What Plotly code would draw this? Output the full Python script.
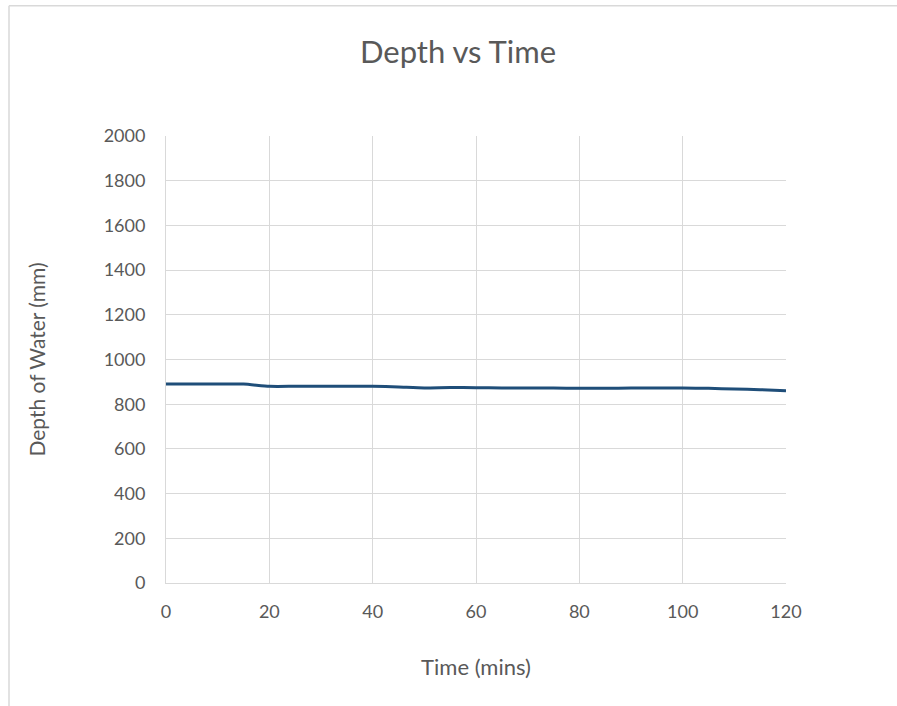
import plotly.graph_objects as go

# Water depth readings over a two-hour test
time_mins = [0, 5, 10, 15, 20, 25, 30, 35, 40, 45, 50, 55, 60,
             65, 70, 75, 80, 85, 90, 95, 100, 105, 110, 115, 120]
depth_mm = [890, 890, 890, 890, 880, 880, 880, 880, 880, 877, 873, 875, 874,
            873, 873, 872, 871, 871, 872, 872, 872, 871, 868, 865, 860]

x_ticks = [0, 20, 40, 60, 80, 100, 120]
y_ticks = [0, 200, 400, 600, 800, 1000, 1200, 1400, 1600, 1800, 2000]

W, H = 897, 706
L, R, T, B = 165.7, 785.7, 135.7, 583.3

def px(x):
    return (x - L) / (R - L)

def py(y):
    return (B - y) / (B - T)

text_color = "#595959"
grid_color = "#d9d9d9"
font_family = "Lato, 'Open Sans', sans-serif"

fig = go.Figure()
fig.add_trace(go.Scatter(
    x=time_mins, y=depth_mm, mode="lines",
    line=dict(color="#1f4e79", width=3, shape="spline", smoothing=0.6),
    showlegend=False, hoverinfo="x+y",
))

fig.update_layout(
    width=W, height=H,
    margin=dict(l=L, r=W - R, t=T, b=H - B, pad=0),
    paper_bgcolor="white", plot_bgcolor="white",
    font=dict(family=font_family, color=text_color, size=18),
    title=dict(text="Depth vs Time", x=458 / W, xanchor="center",
               y=1 - 52 / H, yanchor="middle",
               font=dict(size=31, color=text_color, family=font_family)),
    xaxis=dict(range=[0, 120], tickmode="array", tickvals=x_ticks,
               showgrid=True, gridcolor=grid_color, gridwidth=1,
               zeroline=False, showline=True, linecolor=grid_color, linewidth=1,
               ticks="", ticklen=0, tickfont=dict(size=18),
               ticklabelstandoff=12,
               title=dict(text="Time (mins)", font=dict(size=22), standoff=39)),
    yaxis=dict(range=[0, 2000], tickmode="array", tickvals=y_ticks,
               showgrid=True, gridcolor=grid_color, gridwidth=1,
               zeroline=False, showline=True, linecolor=grid_color, linewidth=1,
               ticks="", ticklen=0, tickfont=dict(size=18),
               ticklabelstandoff=16,
               title=dict(text="Depth of Water (mm)", font=dict(size=21), standoff=52)),
    shapes=[
        dict(type="line", xref="paper", yref="paper",
             x0=px(8.7), y0=py(H + 2), x1=px(8.7), y1=py(5.3),
             line=dict(color="#d9d9d9", width=1.5)),
        dict(type="line", xref="paper", yref="paper",
             x0=px(8.7), y0=py(5.3), x1=px(W + 2), y1=py(5.3),
             line=dict(color="#d9d9d9", width=1.5)),
    ],
)

fig.write_html("out.html")
